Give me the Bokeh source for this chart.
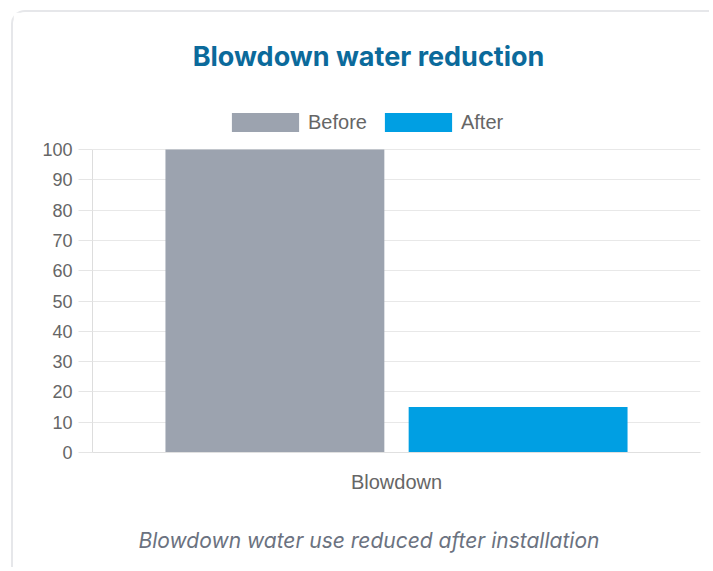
from bokeh.plotting import figure
from bokeh.models import (FactorRange, Range1d, Legend, LegendItem, Title, Label, FixedTicker)
from bokeh.transform import dodge
from bokeh.embed import file_html
from bokeh.resources import INLINE

# ---- data ----
categories = ["Blowdown"]
series_names = ["Before", "After"]
before_values = [100]
after_values = [15]
y_ticks = [0, 10, 20, 30, 40, 50, 60, 70, 80, 90, 100]
title_text = "Blowdown water reduction"
caption_text = "Blowdown water use reduced after installation"

colors = {"Before": "#9ca3af", "After": "#009fe3"}

# ---- geometry (pixels) ----
W, H = 698, 557
FRAME_L, FRAME_R, FRAME_T, FRAME_B = 79, 687, 8, 440   # canvas coords
PLOT_TOP = 137                                         # where y=100 sits
PX_PER_UNIT = (FRAME_B - PLOT_TOP) / 100
y_end = (FRAME_B - FRAME_T) / PX_PER_UNIT

p = figure(width=W, height=H, x_range=FactorRange(factors=categories, range_padding=0),
           y_range=Range1d(0, y_end), output_backend="svg", toolbar_location=None,
           min_border_left=FRAME_L, min_border_right=W - FRAME_R,
           min_border_top=FRAME_T, min_border_bottom=H - FRAME_B)
p.outline_line_color = None
p.background_fill_color = "white"
p.border_fill_color = "white"
p.styles = {"margin-left": "11px", "margin-top": "10px",
            "border-top": "2px solid #e6e7ea", "border-left": "2px solid #e6e7ea",
            "border-top-left-radius": "14px"}

src = dict(cat=categories, Before=before_values, After=after_values)
r_before = p.vbar(x=dodge("cat", -0.2, range=p.x_range), top="Before", width=0.36,
                  source=src, fill_color=colors["Before"], line_color=None)
r_after = p.vbar(x=dodge("cat", 0.2, range=p.x_range), top="After", width=0.36,
                 source=src, fill_color=colors["After"], line_color=None)

# axes
p.yaxis.ticker = FixedTicker(ticks=y_ticks)
p.yaxis.bounds = (-13 / PX_PER_UNIT, 100)
p.yaxis.major_label_text_font = "Liberation Sans"
p.yaxis.major_label_text_font_size = "18px"
p.yaxis.major_label_text_color = "#666666"
p.yaxis.major_tick_out = 14
p.yaxis.major_tick_in = 0
p.yaxis.minor_tick_line_color = None
p.yaxis.major_tick_line_color = "#e5e5e5"
p.yaxis.axis_line_color = "#dddddd"
p.yaxis.major_label_standoff = 6

p.xaxis.major_label_text_font = "Liberation Sans"
p.xaxis.major_label_text_font_size = "20px"
p.xaxis.major_label_text_color = "#666666"
p.xaxis.major_tick_line_color = None
p.xaxis.axis_line_color = "#e0e0e0"
p.xaxis.major_label_standoff = 12

p.xgrid.grid_line_color = None
p.ygrid.grid_line_color = "#e8e8e8"
p.ygrid.ticker = FixedTicker(ticks=y_ticks)

# title (inside the frame, above the value area)
p.add_layout(Label(x=(368 - 92) / 608, y=(452 - 55.5) / 303 * 100, text=title_text,
                   text_align="center", text_baseline="alphabetic",
                   text_font="Inter", text_font_style="bold", text_font_size="27px",
                   text_color="#0b6a9b"))

# legend
legend = Legend(items=[LegendItem(label=series_names[0], renderers=[r_before]),
                       LegendItem(label=series_names[1], renderers=[r_after])],
                orientation="horizontal", location=(131, 318),
                glyph_width=84, glyph_height=24, label_height=24,
                label_standoff=1, spacing=9, padding=0, margin=0,
                label_text_font="Liberation Sans", label_text_font_size="20px",
                label_text_color="#666666", border_line_alpha=0,
                background_fill_alpha=0)
p.add_layout(legend)

# caption: a blank spacer title keeps it clear of the category label
p.add_layout(Title(text=" ", text_font_size="20px", standoff=6), "below")
p.add_layout(Title(text=caption_text, align="left", offset=46,
                   text_font="Inter", text_font_style="italic", text_font_size="21px",
                   text_color="#6b7280", standoff=0), "below")

open("out.html", "w").write(file_html(p, INLINE))
